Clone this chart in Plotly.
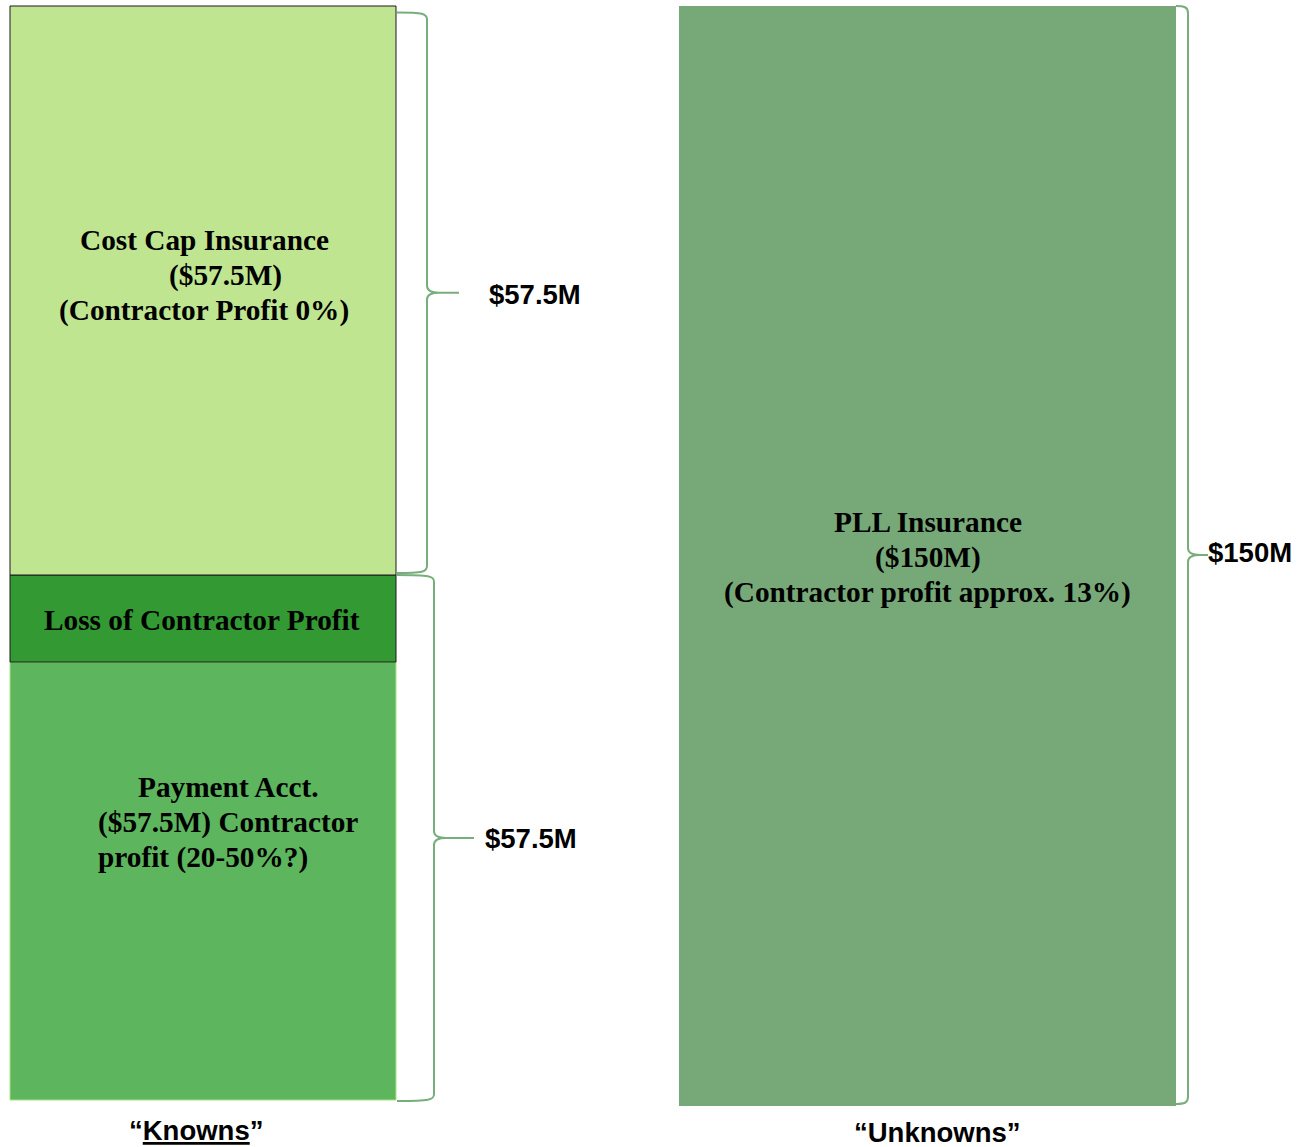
import plotly.graph_objects as go

# ---------------- data ----------------
categories = ["“Knowns”", "“Unknowns”"]
category_labels = ["“<u>Knowns</u>”", "“Unknowns”"]

# left ("Knowns") column, bottom to top; drawn heights
known_names = ["Payment Acct.", "Loss of Contractor Profit", "Cost Cap Insurance"]
known_heights = [438, 87, 569]
known_amounts = [57.5, None, 57.5]          # $M

# right ("Unknowns") column
unknown_names = ["PLL Insurance"]
unknown_heights = [1100]
unknown_amounts = [150]                     # $M

brace_labels = ["$57.5M", "$57.5M", "$150M"]

# ---------------- styling / layout constants ----------------
W, H = 1301, 1147
X0_PX, X_UNIT = 203.0, 724.5      # pixel of category 0, pixels per category step
Y0_PX = 1106.0                    # pixel of value 0
LEFT_BASE = 6
BAR_WIDTHS = [386 / X_UNIT, 497 / X_UNIT]

known_colors = ["#5DB55E", "#339933", "#BFE591"]
known_lines = ["#A8E27F", "#1a1a1a", "#1a1a1a"]
unknown_color = "#77A877"
brace_color = "#78AD7C"

SERIF = "Liberation Serif, Times New Roman, serif"
SANS = "Liberation Sans, Arial, sans-serif"
SERIF_SIZE = 29.3
SANS_SIZE = 27.5


def px_x(v):
    return X0_PX + v * X_UNIT


def px_y(v):
    return Y0_PX - v


def paper_x(px):
    return px / W


def paper_y(py):
    return 1 - py / H


fig = go.Figure()

# left stacked column
base = LEFT_BASE
known_bounds = []
for name, h, col, lc in zip(known_names, known_heights, known_colors, known_lines):
    fig.add_trace(go.Bar(
        x=[0], y=[h], base=[base], width=[BAR_WIDTHS[0]], name=name,
        marker=dict(color=col, line=dict(color=lc, width=1)),
        hoverinfo="name",
    ))
    known_bounds.append((base, base + h))
    base += h

# right column
ubase = 0
unknown_bounds = []
for name, h in zip(unknown_names, unknown_heights):
    fig.add_trace(go.Bar(
        x=[1], y=[h], base=[ubase], width=[BAR_WIDTHS[1]], name=name,
        marker=dict(color=unknown_color, line=dict(color=unknown_color, width=0)),
        hoverinfo="name",
    ))
    unknown_bounds.append((ubase, ubase + h))
    ubase += h


# ---------------- braces ----------------
def brace(x_edge, y_top, y_bot, spine_off, tip_off):
    """right-facing curly brace in pixel space -> paper-space SVG path"""
    xs = x_edge
    xv = x_edge + spine_off
    xt = x_edge + tip_off
    ym = (y_top + y_bot) / 2
    r = 7

    def P(x, y):
        return f"{paper_x(x):.5f},{paper_y(y):.5f}"

    d = (
        f"M {P(xs, y_top)} "
        f"C {P(xv - 4, y_top)} {P(xv, y_top + 1)} {P(xv, y_top + r)} "
        f"L {P(xv, ym - r)} "
        f"C {P(xv, ym - 2)} {P(xv + 4, ym)} {P(xv + 12, ym)} "
        f"L {P(xt, ym)} "
        f"M {P(xv + 12, ym)} "
        f"C {P(xv + 4, ym)} {P(xv, ym + 2)} {P(xv, ym + r)} "
        f"L {P(xv, y_bot - r)} "
        f"C {P(xv, y_bot - 1)} {P(xv - 4, y_bot)} {P(xs, y_bot)}"
    )
    return d


left_edge = px_x(0 + BAR_WIDTHS[0] / 2) + 1
right_edge = px_x(1 + BAR_WIDTHS[1] / 2)

cost_lo, cost_hi = known_bounds[2]
pay_lo = known_bounds[0][0]
loss_hi = known_bounds[1][1]
pll_lo, pll_hi = unknown_bounds[0]

braces = [
    brace(left_edge, px_y(cost_hi) + 6.5, px_y(cost_lo) - 2, 30, 62),
    brace(left_edge, px_y(loss_hi) + 0, px_y(pay_lo) + 1, 37, 77),
    brace(right_edge, px_y(pll_hi), px_y(pll_lo) - 2, 12, 32),
]
for d in braces:
    fig.add_shape(type="path", path=d, xref="paper", yref="paper",
                  line=dict(color=brace_color, width=2))


# ---------------- text ----------------
def txt(x, y, text, font, size, xanchor="center", color="black"):
    fig.add_annotation(
        x=paper_x(x), y=paper_y(y), xref="paper", yref="paper",
        text=text, showarrow=False, xanchor=xanchor, yanchor="middle",
        borderpad=0,
        font=dict(family=font, size=size, color=color, weight="bold"),
    )


# Cost Cap Insurance
txt(204, 240, "Cost Cap Insurance", SERIF, SERIF_SIZE)
txt(225, 275, f"(${known_amounts[2]}M)", SERIF, SERIF_SIZE)
txt(203.5, 311, "(Contractor Profit 0%)", SERIF, SERIF_SIZE)
# Loss of contractor profit
txt(202, 620, "Loss of Contractor Profit", SERIF, SERIF_SIZE)
# Payment Acct.
txt(228, 787, "Payment Acct.", SERIF, SERIF_SIZE)
txt(97, 822, f"(${known_amounts[0]}M) Contractor", SERIF, SERIF_SIZE, xanchor="left")
txt(97, 857, "profit (20-50%?)", SERIF, SERIF_SIZE, xanchor="left")
# PLL
txt(928, 522, "PLL Insurance", SERIF, SERIF_SIZE)
txt(928, 557, f"(${unknown_amounts[0]}M)", SERIF, SERIF_SIZE)
txt(927.5, 592, "(Contractor profit approx. 13%)", SERIF, SERIF_SIZE)

# brace labels
txt(488, 294, brace_labels[0], SANS, SANS_SIZE, xanchor="left")
txt(484, 838, brace_labels[1], SANS, SANS_SIZE, xanchor="left")
txt(1207, 553, brace_labels[2], SANS, SANS_SIZE, xanchor="left")

# category labels
txt(196, 1130, category_labels[0], SANS, SANS_SIZE)
txt(937, 1132, category_labels[1], SANS, SANS_SIZE)

fig.update_layout(
    width=W, height=H,
    margin=dict(l=0, r=0, t=0, b=0, pad=0),
    paper_bgcolor="white", plot_bgcolor="white",
    barmode="overlay", showlegend=False,
    xaxis=dict(range=[-X0_PX / X_UNIT, (W - X0_PX) / X_UNIT], visible=False,
               fixedrange=True),
    yaxis=dict(range=[Y0_PX - H, Y0_PX], visible=False, fixedrange=True),
)

fig.write_html("out.html", config={"displayModeBar": False})
